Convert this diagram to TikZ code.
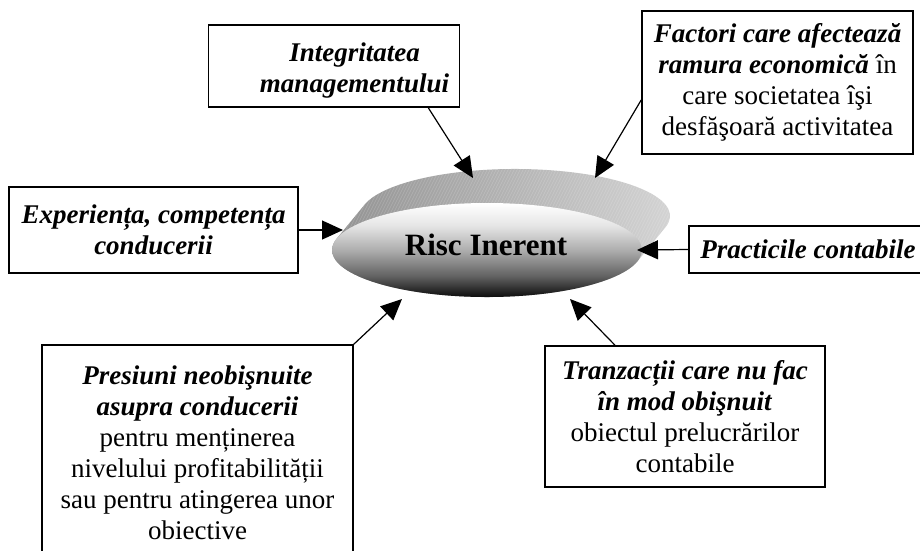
\documentclass[tikz,border=0pt]{standalone}
\usepackage{fontspec}
\setmainfont{Liberation Serif}
\usetikzlibrary{arrows.meta,shapes.geometric}

% vertical shading of the front face: dark at the bottom, white at the top
\pgfdeclareverticalshading{riscfront}{100bp}{color(0bp)=(black); color(25bp)=(black!95); color(36bp)=(black!62); color(50bp)=(black!32); color(63bp)=(black!10); color(75bp)=(white); color(100bp)=(white)}

\newcommand\boxfont{\fontsize{27}{31}\selectfont}
\newcommand\bi[1]{\textbf{\textit{#1}}}
\newcommand\discside{(364.6,204.6) arc[start angle=-165.98, end angle=14.02, x radius=155, y radius=47]
  -- (637.4,261.4) arc[start angle=14.02, end angle=194.02, x radius=155, y radius=47] -- cycle}

\tikzset{
  factorbox/.style={draw=black, line width=1.6pt, fill=white, rectangle,
    align=center, inner sep=0pt, font=\boxfont},
  factorarrow/.style={line width=1.2pt, -{Triangle[length=21pt,width=19pt]}},
}

\begin{document}
\begin{tikzpicture}[x=1pt, y=-1pt]
\useasboundingbox (0,0) rectangle (920,550);

% the extruded side of the disc, with a faint diagonal hatch
\path[left color=black!44, right color=black!16] \discside;
\begin{scope}
  \clip \discside;
  \foreach \k in {0,3,...,420}
    \draw[white, line width=0.5pt, draw opacity=0.18] (300+\k,280) -- (360+\k,160);
\end{scope}

% the front face
\node[ellipse, shading=riscfront, minimum width=310pt, minimum height=94pt, inner sep=0pt] (risc) at (487,250) {};
\node[font=\fontsize{31}{36}\selectfont\bfseries] (risctxt) at (486,245) {Risc Inerent};

% boxes
\node[factorbox, minimum width=251pt, minimum height=82pt] (integ) at (334,66) {};
\node[font=\boxfont, align=center, inner sep=0pt] (integtxt) at (354.5,71) {\bi{Integritatea}\\\bi{managementului}};

\node[factorbox, minimum width=271pt, minimum height=143pt] (factori) at (777.5,82.5)
  {\bi{Factori care afectează}\\\bi{ramura economică} în\\care societatea îşi\\desfăşoară activitatea};

\node[factorbox, minimum width=289pt, minimum height=86pt] (exper) at (153.5,230)
  {\bi{Experiența, competența}\\\bi{conducerii}};

\node[factorbox, minimum width=238pt, minimum height=47pt] (pract) at (808,249.5)
  {\bi{Practicile contabile}};

\node[factorbox, minimum width=311pt, minimum height=215pt] (presiuni) at (197.5,452.5)
  {\bi{Presiuni neobişnuite}\\\bi{asupra conducerii}\\pentru menținerea\\nivelului profitabilității\\sau pentru atingerea unor\\obiective};

\node[factorbox, minimum width=280pt, minimum height=141pt] (tranz) at (685,416.5)
  {\bi{Tranzacții care nu fac}\\\bi{în mod obişnuit}\\obiectul prelucrărilor\\contabile};

% arrow tips on the disc
\coordinate (tipinteg) at (473,178);
\coordinate (tipfact) at (595,178);
\coordinate (tipexp) at (343,230);
\coordinate (tippract) at (637,250);
\coordinate (tippres) at (402,299);
\coordinate (tiptranz) at (570,299);

% connectors
\draw[factorarrow] ([xshift=-32pt]integ.south east) -- (tipinteg);
\draw[factorarrow] ([yshift=-17.5pt]factori.west) -- (tipfact);
\draw[factorarrow] (exper.east) -- (tipexp);
\draw[factorarrow] (pract.west) -- (tippract);
\draw[factorarrow] (presiuni.north east) -- (tippres);
\draw[factorarrow] ([xshift=-70pt]tranz.north) -- (tiptranz);
\end{tikzpicture}
\end{document}
